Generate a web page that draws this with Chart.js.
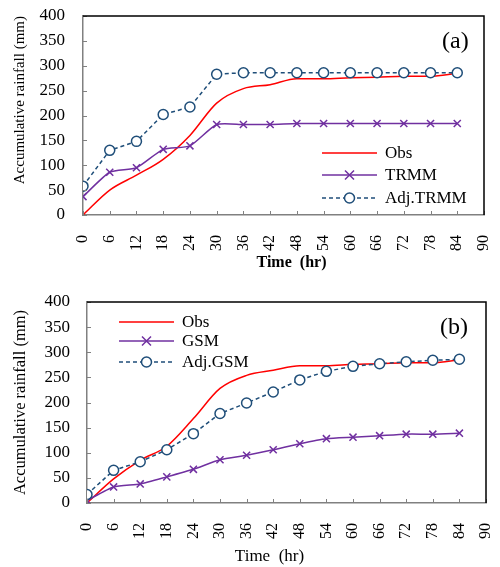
<!DOCTYPE html>
<html>
<head>
<meta charset="utf-8">
<script src="https://cdn.jsdelivr.net/npm/chart.js@4.4.1/dist/chart.umd.min.js"></script>
<style>
  html, body { margin: 0; padding: 0; background: #fff; }
  .panel { position: absolute; left: 0; width: 500px; }
  #panelA { top: 0; height: 283px; }
  #panelB { top: 283px; height: 284px; }
</style>
</head>
<body>
<div class="panel" id="panelA"><canvas id="chartA"></canvas></div>
<div class="panel" id="panelB"><canvas id="chartB"></canvas></div>
<script>
// time steps (hr) and tick labels
const hours = [0, 6, 12, 18, 24, 30, 36, 42, 48, 54, 60, 66, 72, 78, 84];
const xTickValues = [0, 6, 12, 18, 24, 30, 36, 42, 48, 54, 60, 66, 72, 78, 84, 90];
const yTickValues = [0, 50, 100, 150, 200, 250, 300, 350, 400];

// panel (a)
const obsA = [0, 50, 80, 112, 160, 225, 254, 262, 274, 274, 276, 277, 279, 279, 285];
const trmm = [37, 86, 95, 132, 139, 182, 182, 182, 184, 184, 184, 184, 184, 184, 184];
const adjTrmm = [58, 130, 148, 202, 217, 283, 286, 286, 286, 286, 286, 286, 286, 286, 286];

// panel (b)
const obsB = [0, 48, 85, 113, 168, 228, 254, 264, 273, 273, 276, 277, 279, 279, 285];
const gsm = [5, 32, 38, 52, 67, 86, 95, 106, 118, 128, 131, 134, 137, 137, 139];
const adjGsm = [17, 65, 82, 106, 138, 178, 199, 221, 245, 262, 272, 277, 281, 284, 286];

const SERIF = "'Liberation Serif', 'Times New Roman', serif";
const RED = '#ff0000';
const PURPLE = '#7030a0';
const BLUE = '#1f4e79';
const AXIS_GREY = '#808080';

function points(values) {
    return hours.map((h, i) => ({ x: h, y: values[i] }));
}

function drawMarker(ctx, style, x, y, color) {
    ctx.save();
    ctx.setLineDash([]);
    ctx.strokeStyle = color;
    ctx.lineWidth = 1.5;
    if (style === 'circle') {
        ctx.fillStyle = '#fff';
        ctx.beginPath();
        ctx.arc(x, y, 5, 0, Math.PI * 2);
        ctx.fill();
        ctx.stroke();
    } else if (style === 'crossRot') {
        ctx.beginPath();
        ctx.moveTo(x - 4.5, y - 4.5); ctx.lineTo(x + 4.5, y + 4.5);
        ctx.moveTo(x + 4.5, y - 4.5); ctx.lineTo(x - 4.5, y + 4.5);
        ctx.stroke();
    }
    ctx.restore();
}

const framePlugin = {
    id: 'frame',
    afterDraw(chart, args, opts) {
        const ctx = chart.ctx;
        const a = chart.chartArea;
        const xs = chart.scales.x;
        const ys = chart.scales.y;
        ctx.save();

        // inward tick marks
        ctx.strokeStyle = AXIS_GREY;
        ctx.lineWidth = 1;
        ctx.beginPath();
        xs.ticks.forEach(t => {
            const px = Math.round(xs.getPixelForValue(t.value)) + 0.5;
            ctx.moveTo(px, a.bottom);
            ctx.lineTo(px, a.bottom - 4);
        });
        ys.ticks.forEach(t => {
            const py = Math.round(ys.getPixelForValue(t.value)) + 0.5;
            ctx.moveTo(a.left, py);
            ctx.lineTo(a.left + 4, py);
        });
        ctx.stroke();

        // top and right edges of the box
        ctx.strokeStyle = '#000';
        ctx.lineWidth = 1.5;
        ctx.beginPath();
        ctx.moveTo(a.left, a.top);
        ctx.lineTo(a.right, a.top);
        ctx.lineTo(a.right, a.bottom);
        ctx.stroke();

        // panel tag
        ctx.fillStyle = '#000';
        ctx.font = '24px ' + SERIF;
        ctx.textAlign = 'left';
        ctx.textBaseline = 'middle';
        ctx.fillText(opts.tag, opts.tagX, opts.tagY);

        // legend
        ctx.font = '17px ' + SERIF;
        chart.data.datasets.forEach((ds, i) => {
            const y = opts.legendY[i];
            ctx.strokeStyle = ds.borderColor;
            ctx.lineWidth = ds.borderWidth;
            ctx.setLineDash(ds.borderDash || []);
            ctx.beginPath();
            ctx.moveTo(opts.legendX, y);
            ctx.lineTo(opts.legendX + 55, y);
            ctx.stroke();
            ctx.setLineDash([]);
            if (ds.pointRadius > 0) drawMarker(ctx, ds.pointStyle, opts.legendX + 27.5, y, ds.borderColor);
            ctx.fillStyle = '#000';
            ctx.fillText(ds.label, opts.legendX + 63, y + 1);
        });
        ctx.restore();
    }
};

function makeChart(id, series, labels, layout) {
    const styles = [
        { color: RED, dash: [], style: false, radius: 0, tension: 0.4 },
        { color: PURPLE, dash: [], style: 'crossRot', radius: 5, tension: 0.2 },
        { color: BLUE, dash: [4, 3], style: 'circle', radius: 5, tension: 0 }
    ];
    const datasets = series.map((values, i) => ({
        label: labels[i],
        data: points(values),
        borderColor: styles[i].color,
        backgroundColor: i === 2 ? '#fff' : styles[i].color,
        borderWidth: 1.5,
        borderDash: styles[i].dash,
        pointStyle: styles[i].style,
        pointRadius: styles[i].radius,
        pointBorderWidth: 1.5,
        pointBackgroundColor: i === 2 ? '#fff' : styles[i].color,
        tension: styles[i].tension,
        cubicInterpolationMode: i === 0 ? 'monotone' : 'default',
        order: 3 - i
    }));

    return new Chart(document.getElementById(id).getContext('2d'), {
        type: 'line',
        data: { datasets: datasets },
        plugins: [framePlugin],
        options: {
            responsive: true,
            maintainAspectRatio: false,
            animation: false,
            layout: { padding: layout.padding },
            plugins: {
                legend: { display: false },
                tooltip: { enabled: false },
                frame: layout.frame
            },
            scales: {
                x: {
                    type: 'linear',
                    min: 0,
                    max: 90,
                    afterBuildTicks: s => { s.ticks = xTickValues.map(v => ({ value: v })); },
                    afterFit: s => {
                        s.height = layout.xHeight;
                        s.paddingLeft = 0;
                        s.paddingRight = 0;
                    },
                    grid: { display: false, drawTicks: false },
                    border: { display: true, color: AXIS_GREY, width: 1.5 },
                    ticks: {
                        autoSkip: false,
                        minRotation: 90,
                        maxRotation: 90,
                        padding: 20,
                        color: '#000',
                        font: { family: SERIF, size: 16 }
                    },
                    title: {
                        display: true,
                        text: layout.xTitle,
                        color: '#000',
                        font: { family: SERIF, size: layout.xTitleSize, weight: layout.xTitleWeight },
                        padding: { top: 0, bottom: layout.xTitlePad }
                    }
                },
                y: {
                    min: 0,
                    max: 400,
                    afterBuildTicks: s => { s.ticks = yTickValues.map(v => ({ value: v })); },
                    afterFit: s => {
                        s.width = layout.yWidth;
                        s.paddingTop = 0;
                        s.paddingBottom = 0;
                    },
                    grid: { display: false, drawTicks: false },
                    border: { display: true, color: AXIS_GREY, width: 1.5 },
                    ticks: {
                        autoSkip: false,
                        padding: layout.yTickPad,
                        color: '#000',
                        font: { family: SERIF, size: 17 }
                    },
                    title: {
                        display: true,
                        text: 'Accumulative rainfall (mm)',
                        align: layout.yTitleAlign,
                        color: '#000',
                        font: { family: SERIF, size: layout.yTitleSize },
                        padding: { top: 11, bottom: 0 }
                    }
                }
            }
        }
    });
}

makeChart('chartA', [obsA, trmm, adjTrmm], ['Obs', 'TRMM', 'Adj.TRMM'], {
    padding: { top: 16, right: 16, left: 0, bottom: 0 },
    yWidth: 83,
    xHeight: 68,
    yTickPad: 18,
    xTitle: '    Time  (hr)',
    xTitleSize: 16,
    xTitleWeight: 'bold',
    xTitlePad: 11,
    yTitleAlign: 'end',
    yTitleSize: 15,
    frame: { tag: '(a)', tagX: 442, tagY: 42, legendX: 322, legendY: [153, 175, 198] }
});

makeChart('chartB', [obsB, gsm, adjGsm], ['Obs', 'GSM', 'Adj.GSM'], {
    padding: { top: 19, right: 14, left: 0, bottom: 0 },
    yWidth: 87,
    xHeight: 64,
    yTickPad: 17,
    xTitle: 'Time  (hr)        ',
    xTitleSize: 17,
    xTitleWeight: 'normal',
    xTitlePad: 0,
    yTitleAlign: 'center',
    yTitleSize: 16.5,
    frame: { tag: '(b)', tagX: 440, tagY: 45, legendX: 119, legendY: [39, 58, 79] }
});
</script>
</body>
</html>
